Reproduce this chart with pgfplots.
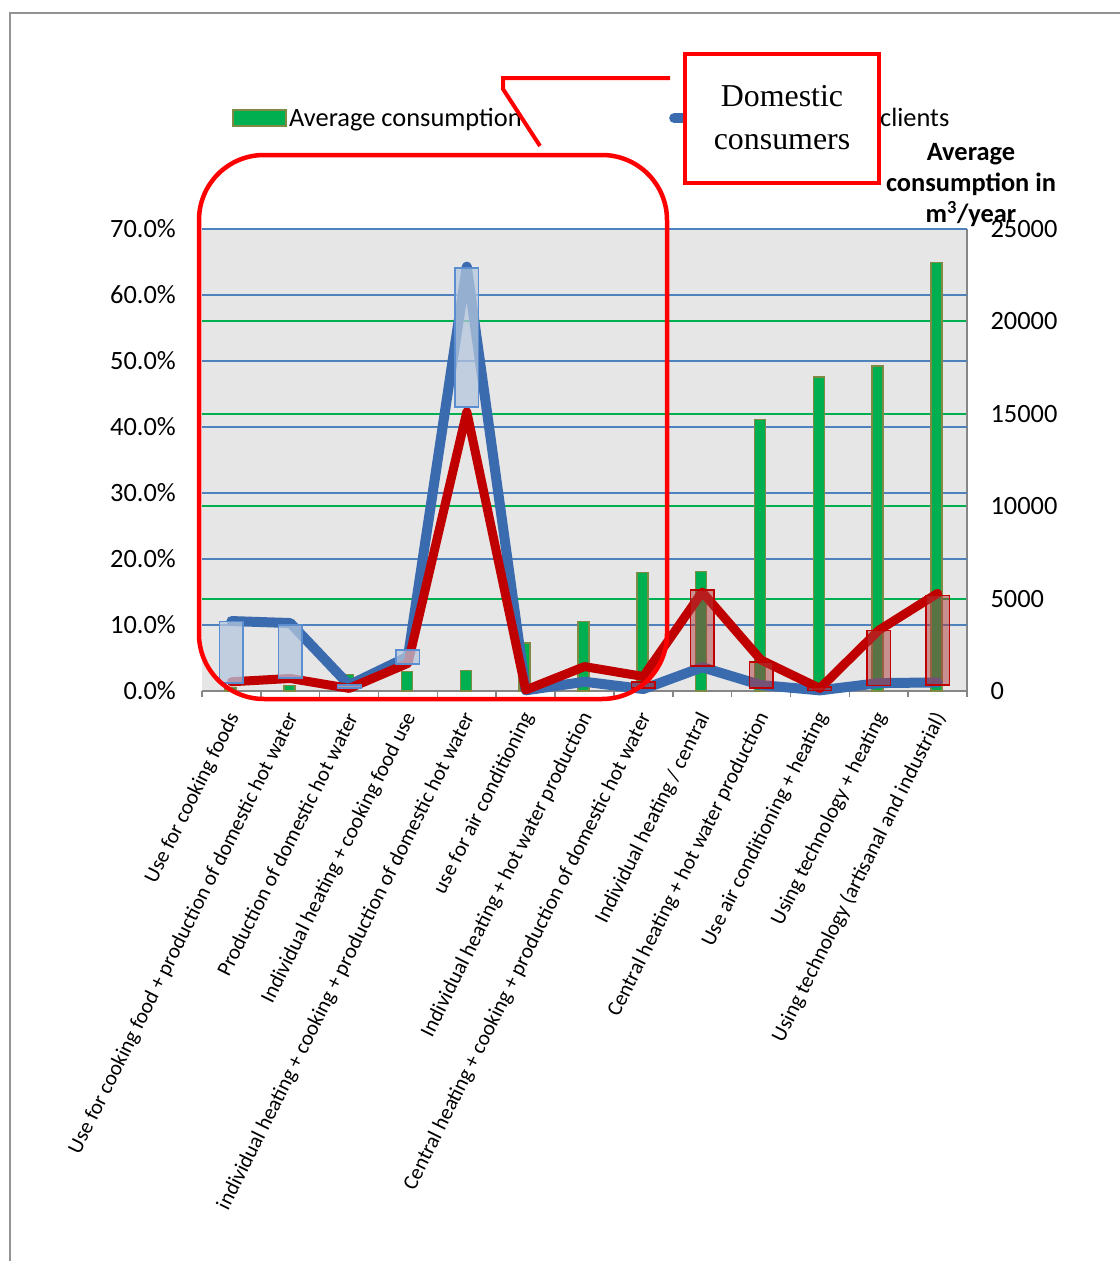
\documentclass[border=0pt]{standalone}
\usepackage{fontspec}
\setmainfont{Carlito}
\newfontfamily\calloutfont{Liberation Serif}
\usepackage{pgfplots}
\usepackage{pgfplotstable}
\pgfplotsset{compat=1.18}

\definecolor{gridblue}{HTML}{4F81BD}
\definecolor{gridgreen}{HTML}{00B050}
\definecolor{barfill}{HTML}{00B050}
\definecolor{baredge}{HTML}{7F8A45}
\definecolor{lineblue}{HTML}{3A6BAE}
\definecolor{linered}{HTML}{C00000}
\definecolor{axisgray}{HTML}{868686}
\definecolor{plotbg}{HTML}{E6E6E6}
\definecolor{boxblue}{HTML}{B4C6DE}
\definecolor{boxblueedge}{HTML}{5B8ED0}
\definecolor{boxred}{HTML}{B03A3A}
\definecolor{boxrededge}{HTML}{C00000}
\definecolor{calloutred}{HTML}{FF0000}

% average consumption, m^3/year
\pgfplotstableread{
x cons
0 200
1 300
2 900
3 1050
4 1100
5 2600
6 3750
7 6400
8 6480
9 14700
10 17000
11 17600
12 23200
}\consumption

% shares in percent
\pgfplotstableread{
x clients domestic
0 10.6 1.4
1 10.3 1.9
2 0.9 0.4
3 5.2 4.2
4 64.3 42.3
5 0.1 0.15
6 1.4 3.7
7 0.3 2.2
8 3.6 15.0
9 0.9 4.7
10 0.1 0.4
11 1.2 9.2
12 1.3 14.8
}\shares

\newcommand{\ticksize}{\fontsize{26.5}{30}\selectfont}
\newcommand{\catsize}{\fontsize{21.4}{25}\selectfont}

\begin{document}
\begin{tikzpicture}
\path[use as bounding box] (0,0) rectangle (1120bp,-1261bp);

% secondary axis: average consumption bars
\begin{axis}[
  at={(202bp,-691bp)}, anchor=south west,
  scale only axis, width=765bp, height=462bp,
  xmin=-0.5, xmax=12.5, ymin=0, ymax=25000,
  axis x line*=bottom, axis y line*=right,
  axis line style={draw=axisgray, line width=2bp, -},
  axis background/.style={fill=plotbg},
  /pgf/number format/assume math mode=true,
  /pgf/number format/set thousands separator={},
  scaled y ticks=false,
  xtick={-0.5,0.5,...,12.5}, xticklabels={},
  tick align=outside, major tick length=6bp,
  xtick style={draw=axisgray, line width=1.5bp},
  ytick={0,5000,...,25000},
  ytick style={draw=none},
  ymajorgrids, major grid style={gridgreen, line width=2bp},
  extra y ticks={3571.43,7142.86,10714.29,14285.71,17857.14,21428.57,25000},
  extra y tick labels={},
  extra y tick style={grid=major, major grid style={gridblue, line width=2bp},
    tick style={draw=axisgray, line width=1.5bp}},
  yticklabel style={font=\ticksize, anchor=west, xshift=14bp},
  ybar, bar width=11bp, bar shift=-1bp,
  clip=false,
]
\addplot[fill=barfill, draw=baredge, line width=1.5bp] table[x=x, y=cons] {\consumption};
\end{axis}

% primary axis: shares of clients
\begin{axis}[
  at={(202bp,-691bp)}, anchor=south west,
  scale only axis, width=765bp, height=462bp,
  xmin=-0.5, xmax=12.5, ymin=0, ymax=70,
  axis x line*=bottom, axis y line*=left,
  axis line style={draw=none},
  /pgf/number format/assume math mode=true,
  xtick={0,...,12},
  xticklabels={
    Use for cooking foods,
    Use for cooking food + production of domestic hot water,
    Production of domestic hot water,
    Individual heating + cooking food use,
    individual heating + cooking + production of domestic hot water,
    use for air conditioning,
    Individual heating + hot water production,
    Central heating + cooking + production of domestic hot water,
    Individual heating / central,
    Central heating + hot water production,
    Use air conditioning + heating,
    Using technology + heating,
    Using technology (artisanal and industrial)},
  xticklabel style={font=\catsize, xshift=3bp, yshift=-23bp, rotate=63.5, anchor=east, inner sep=0pt},
  ytick={0,10,...,70},
  tick style={draw=none},
  yticklabel={\pgfmathprintnumber[fixed,fixed zerofill,precision=1]{\tick}\%},
  yticklabel style={font=\ticksize, anchor=east, inner sep=0pt, xshift=-26bp},
  clip=false,
  legend columns=2,
  legend style={at={(axis description cs:0.0392,1.240)}, anchor=west,
    draw=none, fill=none, inner sep=0pt, font=\ticksize,
    nodes={inner sep=2.5bp}},
]
\addlegendimage{legend image code/.code={\draw[fill=barfill, draw=baredge, line width=1.5bp] (0bp,-8bp) rectangle (53bp,8bp);}}
\addlegendentry{Average consumption\rule{145bp}{0pt}}
\addplot[lineblue, line width=10bp, line join=round, line cap=round,
  legend image code/.code={\draw[lineblue, line width=10bp, line cap=round] (5bp,0bp) -- (50bp,0bp);}]
  table[x=x, y=clients] {\shares};
\addlegendentry{Percentage of clients}
\addplot[linered, line width=9bp, line join=round, line cap=round, forget plot]
  table[x=x, y=domestic] {\shares};

% highlighted gaps between the two shares
\addplot[forget plot, fill=boxblue, fill opacity=0.75, draw=boxblueedge, line width=1.5bp]
  coordinates {(-0.2,1.2) (0.2,1.2) (0.2,10.5) (-0.2,10.5)} -- cycle;
\addplot[forget plot, fill=boxblue, fill opacity=0.75, draw=boxblueedge, line width=1.5bp]
  coordinates {(0.8,2.0) (1.2,2.0) (1.2,10.0) (0.8,10.0)} -- cycle;
\addplot[forget plot, fill=boxblue, fill opacity=0.75, draw=boxblueedge, line width=1.5bp]
  coordinates {(1.8,0.45) (2.2,0.45) (2.2,0.9) (1.8,0.9)} -- cycle;
\addplot[forget plot, fill=boxblue, fill opacity=0.75, draw=boxblueedge, line width=1.5bp]
  coordinates {(2.8,4.1) (3.2,4.1) (3.2,6.2) (2.8,6.2)} -- cycle;
\addplot[forget plot, fill=boxblue, fill opacity=0.75, draw=boxblueedge, line width=1.5bp]
  coordinates {(3.8,43.0) (4.2,43.0) (4.2,64.1) (3.8,64.1)} -- cycle;

\addplot[forget plot, fill=boxred, fill opacity=0.5, draw=boxrededge, line width=1.5bp]
  coordinates {(6.8,0.45) (7.2,0.45) (7.2,1.4) (6.8,1.4)} -- cycle;
\addplot[forget plot, fill=boxred, fill opacity=0.5, draw=boxrededge, line width=1.5bp]
  coordinates {(7.8,3.8) (8.2,3.8) (8.2,15.3) (7.8,15.3)} -- cycle;
\addplot[forget plot, fill=boxred, fill opacity=0.5, draw=boxrededge, line width=1.5bp]
  coordinates {(8.8,0.45) (9.2,0.45) (9.2,4.4) (8.8,4.4)} -- cycle;
\addplot[forget plot, fill=boxred, fill opacity=0.5, draw=boxrededge, line width=1.5bp]
  coordinates {(9.8,0.1) (10.2,0.1) (10.2,0.6) (9.8,0.6)} -- cycle;
\addplot[forget plot, fill=boxred, fill opacity=0.5, draw=boxrededge, line width=1.5bp]
  coordinates {(10.8,0.8) (11.2,0.8) (11.2,9.2) (10.8,9.2)} -- cycle;
\addplot[forget plot, fill=boxred, fill opacity=0.5, draw=boxrededge, line width=1.5bp]
  coordinates {(11.8,0.9) (12.2,0.9) (12.2,14.5) (11.8,14.5)} -- cycle;
\end{axis}

% page frame, axis title and callout
\begin{scope}[x=1bp, y=-1bp]
  \draw[gray!85, line width=2bp] (10,1261) -- (10,13) -- (1120,13);
  \node[font=\bfseries\fontsize{26.5}{31.5}\selectfont, align=center] at (971,185)
    {Average\\consumption in\\m\textsuperscript{3}/year};
  \draw[calloutred, line width=4.5bp, rounded corners=65bp] (199,155) rectangle (667,699);
  \draw[calloutred, line width=4bp] (670,78) -- (503,78) -- (503,89) -- (540,146);
  \draw[calloutred, line width=4.5bp, fill=white] (685,54) rectangle (879,183);
  \node[font=\calloutfont\fontsize{32}{43}\selectfont, align=center] at (782,118)
    {Domestic\\consumers};
\end{scope}
\end{tikzpicture}
\end{document}
